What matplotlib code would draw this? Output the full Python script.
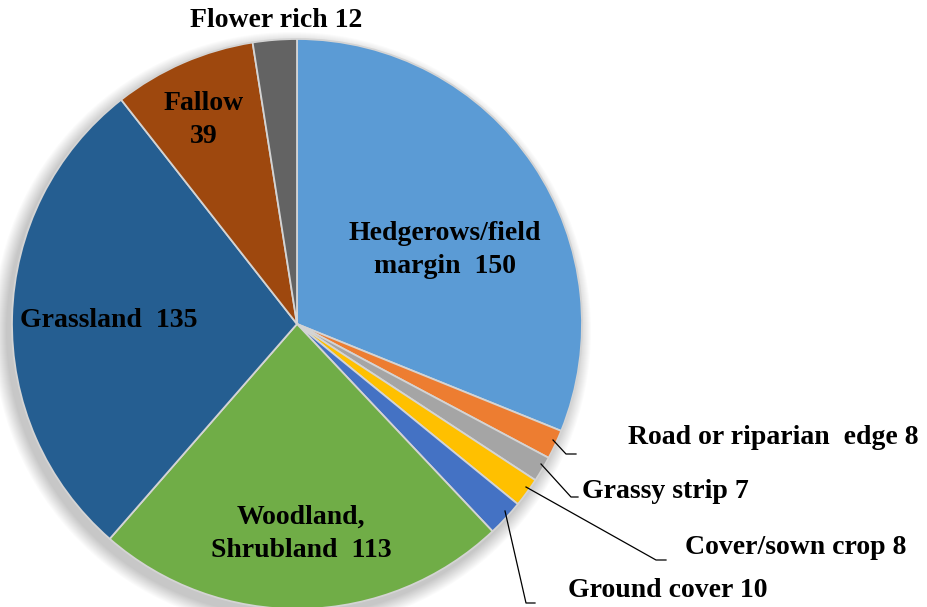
import numpy as np
import matplotlib.pyplot as plt
from matplotlib.patches import Circle

# Данные из диаграммы
labels = ['Hedgerows/field\nmargin  150', 'Road or riparian  edge 8', 'Grassy strip 7',
          'Cover/sown crop 8', 'Ground cover 10', 'Woodland,\nShrubland  113',
          'Grassland  135', 'Fallow\n39', 'Flower rich 12']
values = [150, 8, 7, 8, 10, 113, 135, 39, 12]
colors = ['#5B9BD5', '#ED7D31', '#A5A5A5', '#FFC000', '#4472C4',
          '#70AD47', '#255E91', '#9E480E', '#636363']

W, H = 928, 607
cx, cy, R = 297, H - 324, 285

plt.rcParams['font.family'] = ['Liberation Serif', 'DejaVu Serif']
fig = plt.figure(figsize=(W / 100, H / 100), dpi=100)
ax = fig.add_axes([0, 0, 1, 1])

# мягкая тень под кругом
for k in range(14):
    ax.add_patch(Circle((cx - 5, cy - 7), R + 14 - k, color='black',
                        alpha=0.014, lw=0, zorder=0))

wedges, _ = ax.pie(values, colors=colors, startangle=90, counterclock=False,
                   center=(cx, cy), radius=R, frame=True,
                   wedgeprops=dict(edgecolor='#D4D4D4', linewidth=1.3))
ax.set_xlim(0, W)
ax.set_ylim(0, H)
ax.set_aspect('equal')
ax.axis('off')

fs = 20
txt = dict(fontsize=fs, fontweight='bold', color='black')

# подписи внутри секторов
inside = {0: (445, 250), 5: (301, 534), 6: (109, 320), 7: (204, 120)}
for i, (x, y) in inside.items():
    ax.text(x, H - y, labels[i], ha='center', va='center', linespacing=1.45, **txt)
ax.text(276, H - 20, labels[8], ha='center', va='center', **txt)

# выноски для маленьких секторов
callouts = {
    1: [(553, 440), (566, 454), (576, 454)],
    2: [(541, 464), (571, 497), (578, 497)],
    3: [(526, 487), (656, 560), (666, 560)],
    4: [(505, 511), (526, 603), (535, 603)],
}
text_pos = {1: (628, 437), 2: (582, 492), 3: (685, 548), 4: (568, 591)}
for i, pts in callouts.items():
    xs = [p[0] for p in pts]
    ys = [H - p[1] for p in pts]
    ax.plot(xs, ys, color='black', lw=0.9, zorder=5)
    x, y = text_pos[i]
    ax.text(x, H - y, labels[i], ha='left', va='center', **txt)

fig.savefig('out.png', dpi=100)
